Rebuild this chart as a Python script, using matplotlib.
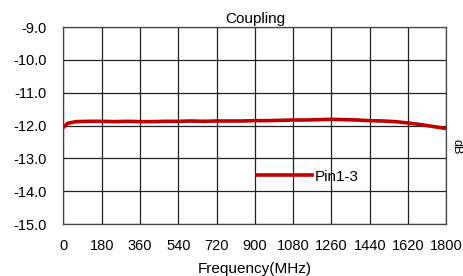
import matplotlib
matplotlib.use('Agg')
import matplotlib.pyplot as plt

plt.rcParams['font.family'] = ['Liberation Sans', 'DejaVu Sans']
plt.rcParams['font.size'] = 11

freq = [0, 20, 60, 120, 180, 240, 300, 360, 420, 480, 540, 600, 660, 720, 780, 840,
        900, 960, 1020, 1080, 1140, 1200, 1260, 1320, 1380, 1440, 1500, 1560, 1620,
        1680, 1740, 1800]
coupling = [-12.05, -11.93, -11.88, -11.87, -11.87, -11.88, -11.87, -11.88, -11.88,
            -11.87, -11.87, -11.86, -11.87, -11.86, -11.86, -11.86, -11.85, -11.85,
            -11.84, -11.83, -11.83, -11.82, -11.81, -11.82, -11.83, -11.85, -11.86,
            -11.88, -11.92, -11.97, -12.03, -12.09]
xticks = [0, 180, 360, 540, 720, 900, 1080, 1260, 1440, 1620, 1800]
yticks = [-15.0, -14.0, -13.0, -12.0, -11.0, -10.0, -9.0]

fig = plt.figure(figsize=(4.63, 2.76), dpi=100)
ax = fig.add_axes([0.137, 0.188, 0.827, 0.714])
ax.plot(freq, coupling, color='#C00000', lw=2.6, label='Pin1-3')
ax.set_xlim(0, 1800)
ax.set_ylim(-15, -9)
ax.set_xticks(xticks)
ax.set_yticks(yticks)
ax.set_yticklabels(['%.1f' % v for v in yticks])
ax.grid(True, color='#222222', lw=0.9)
ax.tick_params(length=0, labelsize=10.5)
ax.tick_params(axis='x', pad=11)
ax.tick_params(axis='y', pad=12)
for s in ax.spines.values():
    s.set_color('#444444')
    s.set_linewidth(0.9)
ax.set_title('Coupling', fontsize=11, pad=3)
ax.set_xlabel('Frequency(MHz)', fontsize=11, labelpad=6)
fig.text(0.972, 0.47, 'dB', rotation=270, fontsize=9, va='center', ha='left')
ax.legend(loc='center left', bbox_to_anchor=(0.47, 0.24), frameon=False,
          handlelength=3.6, handletextpad=0.15, fontsize=11)
fig.savefig('out.png', dpi=100)
